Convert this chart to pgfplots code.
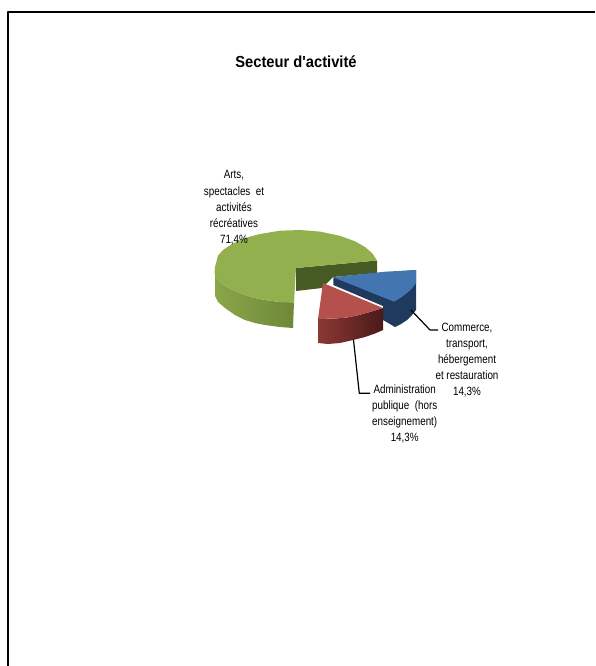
\documentclass[border=0pt]{standalone}
\usepackage{pgfplots}
\pgfplotsset{compat=1.18}
\usepackage{fontspec}
\setmainfont[Ligatures=TeXOff]{Liberation Sans}
\definecolor{greenTop}{HTML}{93B04F}
\definecolor{greenDark}{HTML}{465A24}
\definecolor{greenL}{HTML}{8AA64A}
\definecolor{greenR}{HTML}{6E8838}
\definecolor{redTop}{HTML}{B5504C}
\definecolor{redL}{HTML}{8C3835}
\definecolor{redR}{HTML}{4A1A18}
\definecolor{blueTop}{HTML}{4375B0}
\definecolor{blueDark}{HTML}{1F3A5C}
\begin{document}
\begin{tikzpicture}
\begin{axis}[
  width=595pt,height=666pt,scale only axis,
  xmin=0,xmax=595,ymin=0,ymax=666,y dir=reverse,
  hide axis,clip=true,
  every axis plot/.append style={line join=round}
]
% frame
\addplot[black,line width=2pt] coordinates {(8,666) (8,12.5) (595,12.5)};
% green slice, side
\addplot[draw=none,left color=greenL,right color=greenR] coordinates {
 (215,272) (215,296) (218,302) (225,308) (235,315) (245,320) (255,323) (265,325) (280,327) (293,328)
 (294,302) (280,302) (265,300) (255,298) (245,295) (235,291) (225,286) (218,280)} -- cycle;
% green inner face
\addplot[draw=none,fill=greenDark] coordinates {
 (296,268) (377,260.5) (377,273) (333,277) (322,288) (296,291)} -- cycle;
% green top
\addplot[draw=none,fill=greenTop] coordinates {
 (377,260.5) (372,253) (365,247) (355,241.3) (340,235.8) (320,231.6) (300,230) (280,230.7) (260,234)
 (245,238) (232,244) (223,250) (218,255.6) (215,267) (214.5,271) (215,275)
 (218,280) (225,286) (235,291) (245,295) (255,298) (265,300) (280,302) (294,303) (296,268)} -- cycle;
% blue side and inner face
\addplot[draw=none,fill=blueDark] coordinates {
 (333.3,277.3) (416,270) (416,310) (412,315) (407,320) (401,324) (395,327) (383,320) (383,306) (333.3,285)} -- cycle;
% blue top
\addplot[draw=none,fill=blueTop] coordinates {
 (333.3,277.3) (385,271.7) (416,270) (416,283) (412,288.5) (407,293) (401,297.5) (394,301.7)} -- cycle;
% red side
\addplot[draw=none,left color=redL,right color=redR] coordinates {
 (318,319) (318,343) (328,344) (340,343) (353,340) (365,337) (375,333.5) (383,330)
 (383,308) (370,312) (357,315.5) (347,317.5) (335,318.5)} -- cycle;
% red top
\addplot[draw=none,fill=redTop] coordinates {
 (323,283) (383,308) (370,312) (357,315.5) (347,317.5) (335,318.5) (318,319)} -- cycle;
% leader lines
\addplot[black,line width=1.2pt] coordinates {(411,310) (430,330) (438,330)};
\addplot[black,line width=1.2pt] coordinates {(353.5,340) (359.3,393.3) (370,393.3)};
% labels
\node[font=\bfseries\fontsize{16}{18}\selectfont,xscale=0.92] at (axis cs:296,62) {Secteur d'activité};
\node[font=\fontsize{12}{16.2}\selectfont,xscale=0.82,align=center] at (axis cs:234,208)
 {Arts,\\spectacles\ \ et\\activités\\récréatives\\71,4\%};
\node[font=\fontsize{12}{16}\selectfont,xscale=0.82,align=center] at (axis cs:467,360.3)
 {Commerce,\\transport,\\hébergement\\et restauration\\14,3\%};
\node[font=\fontsize{12}{16}\selectfont,xscale=0.82,align=center] at (axis cs:404.7,414)
 {Administration\\publique\ \ (hors\\enseignement)\\14,3\%};
\end{axis}
\pgfresetboundingbox
\path[use as bounding box] (0,0) rectangle (595pt,666pt);
\end{tikzpicture}
\end{document}
